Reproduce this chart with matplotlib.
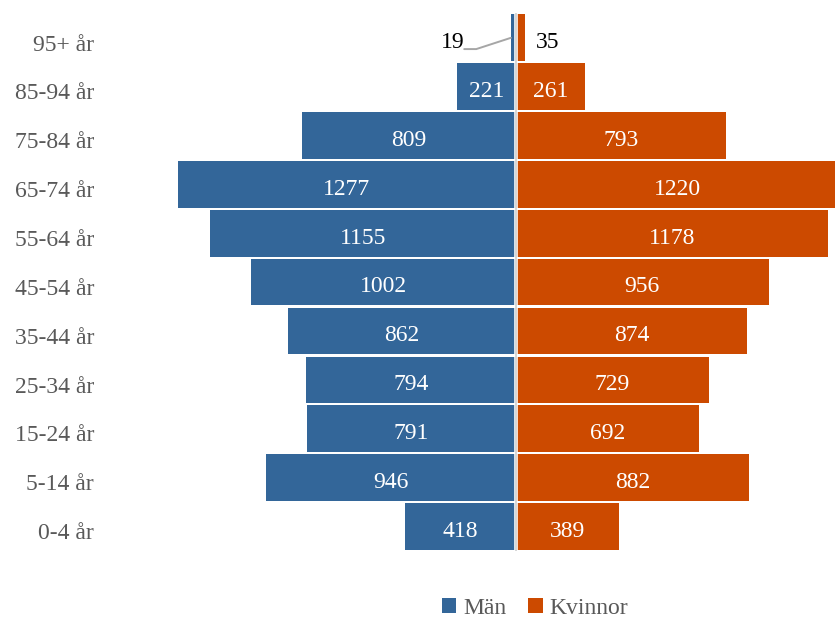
import matplotlib
matplotlib.use("Agg")
import matplotlib.pyplot as plt
import matplotlib.transforms as mtransforms
import numpy as np
from matplotlib.patches import Patch

plt.rcParams['font.family'] = ['Liberation Serif', 'DejaVu Serif']

categories = ["0-4 år", "5-14 år", "15-24 år", "25-34 år", "35-44 år", "45-54 år",
              "55-64 år", "65-74 år", "75-84 år", "85-94 år", "95+ år"]
men = [418, 946, 791, 794, 862, 1002, 1155, 1277, 809, 221, 19]
women = [389, 882, 692, 729, 874, 956, 1178, 1220, 793, 261, 35]
series_names = ["Män", "Kvinnor"]

BLUE = "#336699"
ORANGE = "#CC4A00"
FS = 17
TXT_DY = -3.4  # points: labels sit slightly below bar centres

W, H = 835, 619
fig = plt.figure(figsize=(W / 100, H / 100), dpi=100)
left_px, right_px = 178, 835
top_px, bot_px = 13.4, 550.9
ax = fig.add_axes([left_px / W, 1 - bot_px / H, (right_px - left_px) / W, (bot_px - top_px) / H])

y = np.arange(len(categories))
ax.barh(y, [-m for m in men], height=0.955, color=BLUE, edgecolor='none', zorder=2)
ax.barh(y, women, height=0.955, color=ORANGE, edgecolor='none', zorder=2)

scale = 0.2645  # px per unit
ax.set_xlim(-1277, (right_px - 516) / scale)
ax.set_ylim(-0.5, len(categories) - 0.5)

ax.axvline(0, color='white', lw=2.6, zorder=3)
ax.axvline(0, color='#d0d0d0', lw=1.2, zorder=4)

ax.set_yticks(y)
ax.set_yticklabels(categories, fontsize=FS, color='#595959')
ax.tick_params(axis='y', length=0, pad=60.5)
shift = mtransforms.ScaledTranslation(0, TXT_DY / 72, fig.dpi_scale_trans)
for lab in ax.get_yticklabels():
    lab.set_transform(lab.get_transform() + shift)
ax.set_xticks([])
for s in ax.spines.values():
    s.set_visible(False)

last = len(categories) - 1
for i, (m, w) in enumerate(zip(men, women)):
    if i == last:
        continue
    ax.annotate(str(m), xy=(-m / 2, i), xytext=(0, TXT_DY), textcoords='offset points',
                ha='center', va='center', color='white', fontsize=FS, zorder=5)
    ax.annotate(str(w), xy=(w / 2, i), xytext=(0, TXT_DY), textcoords='offset points',
                ha='center', va='center', color='white', fontsize=FS, zorder=5)

# outside labels for the top row
ax.annotate(str(men[last]), xy=(-men[last], last), xytext=(-33.0, TXT_DY), textcoords='offset points',
            ha='right', va='center', fontsize=FS, color='black')
ax.annotate(str(women[last]), xy=(women[last], last), xytext=(7.5, TXT_DY), textcoords='offset points',
            ha='left', va='center', fontsize=FS, color='black')
ax.annotate("", xy=(-men[last], last), xytext=(-33.6, -8.1), textcoords='offset points',
            arrowprops=dict(arrowstyle='-', color='#a6a6a6', lw=1.4, shrinkA=0, shrinkB=0,
                            connectionstyle='angle,angleA=0,angleB=18,rad=0'))

handles = [Patch(facecolor=BLUE, edgecolor='none'), Patch(facecolor=ORANGE, edgecolor='none')]
leg = fig.legend(handles, series_names, loc='center', bbox_to_anchor=(535 / W, 1 - 608 / H),
                 ncol=2, frameon=False, fontsize=FS, handlelength=0.62, handleheight=0.62,
                 handletextpad=0.3, columnspacing=0.9, borderpad=0)
for t in leg.get_texts():
    t.set_color('#595959')

fig.savefig("out.png", dpi=100)
